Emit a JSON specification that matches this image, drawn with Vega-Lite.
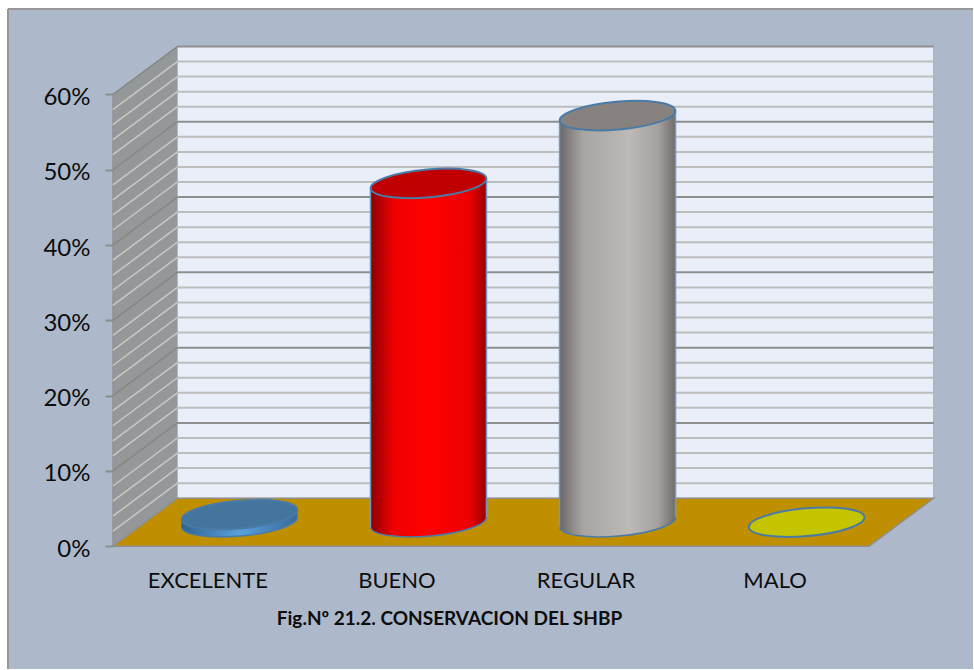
{"$schema":"https://vega.github.io/schema/vega-lite/v6.json","autosize":{"type":"fit","contains":"padding"},"padding":0,"width":974,"height":670,"background":"white","view":{"stroke":null},"config":{"font":"Lato"},
"datasets":{
"valores":[{"categoria":"EXCELENTE","orden":0.5,"valor":0.01},{"categoria":"BUENO","orden":1.5,"valor":0.45},{"categoria":"REGULAR","orden":2.5,"valor":0.54},{"categoria":"MALO","orden":3.5,"valor":0}],
"cuerpos":[{"categoria":"EXCELENTE","f":0.3625,"bajo":0.0252,"alto":0.0352},{"categoria":"EXCELENTE","f":0.9755,"bajo":0.0384,"alto":0.0484},{"categoria":"BUENO","f":1.3625,"bajo":0.0252,"alto":0.4752},{"categoria":"BUENO","f":1.9755,"bajo":0.0384,"alto":0.4884},{"categoria":"REGULAR","f":2.3625,"bajo":0.0252,"alto":0.5652},{"categoria":"REGULAR","f":2.9755,"bajo":0.0384,"alto":0.5784}],
"menores":[{"p":0.02},{"p":0.04},{"p":0.06},{"p":0.08},{"p":0.12},{"p":0.14},{"p":0.16},{"p":0.18},{"p":0.22},{"p":0.24},{"p":0.26},{"p":0.28},{"p":0.32},{"p":0.34},{"p":0.36},{"p":0.38},{"p":0.42},{"p":0.44},{"p":0.46},{"p":0.48},{"p":0.52},{"p":0.54},{"p":0.56},{"p":0.58}],
"mayores":[{"p":0.1},{"p":0.2},{"p":0.3},{"p":0.4},{"p":0.5},{"p":0.6}],
"pared":[{"f":0,"bajo":0,"alto":0.6},{"f":0.341,"bajo":0.0637,"alto":0.6637}],
"piso":[{"h":0,"i":0,"d":4},{"h":0.0637,"i":0.341,"d":4.341}],
"marco":[{"xa":-0.5548,"xb":4.5495,"ya":0.7135,"yb":-0.1631}],
"fondo":[{"xa":0.341,"xb":4.341,"ya":0.0637,"yb":0.6637}]
},
"layer":[
{"data":{"name":"marco"},"mark":{"type":"rect","fill":"#adb9cb"},"encoding":{
"x":{"field":"xa","type":"quantitative","scale":{"domain":[-0.5971,4.5495],"nice":false,"zero":false}},
"x2":{"field":"xb"},
"y":{"field":"ya","type":"quantitative","scale":{"domain":[-0.1631,0.7255],"nice":false,"zero":false}},
"y2":{"field":"yb"}}},
{"data":{"name":"marco"},"mark":{"type":"rule","stroke":"#979797","strokeWidth":2},"encoding":{
"x":{"field":"xa","type":"quantitative","scale":{"domain":[-0.5971,4.5495],"nice":false,"zero":false}},
"x2":{"field":"xb"},
"y":{"field":"ya","type":"quantitative","scale":{"domain":[-0.1631,0.7255],"nice":false,"zero":false}}}},
{"data":{"name":"marco"},"mark":{"type":"rule","stroke":"#979797","strokeWidth":2},"encoding":{
"x":{"field":"xa","type":"quantitative","scale":{"domain":[-0.5971,4.5495],"nice":false,"zero":false}},
"y":{"field":"ya","type":"quantitative","scale":{"domain":[-0.1631,0.7255],"nice":false,"zero":false}},
"y2":{"field":"yb"}}},
{"data":{"name":"pared"},"mark":{"type":"area","orient":"vertical","fill":"#94989a","stroke":"#8e8e8e","strokeWidth":1},"encoding":{
"x":{"field":"f","type":"quantitative","scale":{"domain":[-0.5971,4.5495],"nice":false,"zero":false}},
"y":{"field":"bajo","type":"quantitative","scale":{"domain":[-0.1631,0.7255],"nice":false,"zero":false}},
"y2":{"field":"alto"}}},
{"data":{"name":"fondo"},"mark":{"type":"rect","fill":"#e9eef9","stroke":"#b0b0b0","strokeWidth":1},"encoding":{
"x":{"field":"xa","type":"quantitative","scale":{"domain":[-0.5971,4.5495],"nice":false,"zero":false}},
"x2":{"field":"xb"},
"y":{"field":"ya","type":"quantitative","scale":{"domain":[-0.1631,0.7255],"nice":false,"zero":false}},
"y2":{"field":"yb"}}},
{"data":{"name":"menores"},"mark":{"type":"rule","stroke":"#bdbdbd","strokeWidth":2,"yOffset":-48},"encoding":{
"x":{"datum":0.341,"type":"quantitative","scale":{"domain":[-0.5971,4.5495],"nice":false,"zero":false}},
"x2":{"datum":4.341},
"y":{"field":"p","type":"quantitative","scale":{"domain":[-0.1631,0.7255],"nice":false,"zero":false}}}},
{"data":{"name":"mayores"},"mark":{"type":"rule","stroke":"#8f8f8f","strokeWidth":2,"yOffset":-48},"encoding":{
"x":{"datum":0.341,"type":"quantitative","scale":{"domain":[-0.5971,4.5495],"nice":false,"zero":false}},
"x2":{"datum":4.341},
"y":{"field":"p","type":"quantitative","scale":{"domain":[-0.1631,0.7255],"nice":false,"zero":false}}}},
{"data":{"name":"menores"},"mark":{"type":"rule","stroke":"#c9c9c5","strokeWidth":1.5,"y2Offset":-48},"encoding":{
"x":{"datum":0,"type":"quantitative","scale":{"domain":[-0.5971,4.5495],"nice":false,"zero":false}},
"x2":{"datum":0.341},
"y":{"field":"p","type":"quantitative","scale":{"domain":[-0.1631,0.7255],"nice":false,"zero":false}},
"y2":{"field":"p"}}},
{"data":{"name":"mayores"},"mark":{"type":"rule","stroke":"#85887f","strokeWidth":1.5,"y2Offset":-48},"encoding":{
"x":{"datum":0,"type":"quantitative","scale":{"domain":[-0.5971,4.5495],"nice":false,"zero":false}},
"x2":{"datum":0.341},
"y":{"field":"p","type":"quantitative","scale":{"domain":[-0.1631,0.7255],"nice":false,"zero":false}},
"y2":{"field":"p"}}},
{"data":{"name":"piso"},"mark":{"type":"area","orient":"horizontal","fill":"#bf8f00","stroke":"#8f8f8f","strokeWidth":1.5},"encoding":{
"y":{"field":"h","type":"quantitative","scale":{"domain":[-0.1631,0.7255],"nice":false,"zero":false}},
"x":{"field":"i","type":"quantitative","scale":{"domain":[-0.5971,4.5495],"nice":false,"zero":false}},
"x2":{"field":"d"}}},
{"data":{"name":"valores"},"transform":[{"filter":"datum.categoria==='EXCELENTE'"}],"mark":{"type":"point","filled":true,"opacity":1,"size":13456,"shape":"M-0.9962,0.0872 A1,0.24,-5,1,1,0.9962,-0.0872 A1,0.24,-5,1,1,-0.9962,0.0872 Z","xOffset":32,"yOffset":-24,"color":{"gradient":"linear","x1":0,"y1":0,"x2":1,"y2":0,"stops":[{"offset":0,"color":"#2f6490"},{"offset":0.5,"color":"#5a9fdc"},{"offset":1,"color":"#366c9c"}]},"stroke":"#4a7ba7","strokeWidth":1.5},"encoding":{
"x":{"field":"orden","type":"quantitative","scale":{"domain":[-0.5971,4.5495],"nice":false,"zero":false}},
"y":{"datum":0,"type":"quantitative","scale":{"domain":[-0.1631,0.7255],"nice":false,"zero":false}}}},
{"data":{"name":"valores"},"transform":[{"filter":"datum.categoria==='BUENO'"}],"mark":{"type":"point","filled":true,"opacity":1,"size":13456,"shape":"M-0.9962,0.0872 A1,0.24,-5,1,1,0.9962,-0.0872 A1,0.24,-5,1,1,-0.9962,0.0872 Z","xOffset":32,"yOffset":-24,"color":{"gradient":"linear","x1":0,"y1":0,"x2":1,"y2":0,"stops":[{"offset":0,"color":"#8a0000"},{"offset":0.2,"color":"#f00000"},{"offset":0.5,"color":"#ff0000"},{"offset":0.85,"color":"#ee0000"},{"offset":1,"color":"#990000"}]},"stroke":"#4a7ba7","strokeWidth":1.5},"encoding":{
"x":{"field":"orden","type":"quantitative","scale":{"domain":[-0.5971,4.5495],"nice":false,"zero":false}},
"y":{"datum":0,"type":"quantitative","scale":{"domain":[-0.1631,0.7255],"nice":false,"zero":false}}}},
{"data":{"name":"valores"},"transform":[{"filter":"datum.categoria==='REGULAR'"}],"mark":{"type":"point","filled":true,"opacity":1,"size":13456,"shape":"M-0.9962,0.0872 A1,0.24,-5,1,1,0.9962,-0.0872 A1,0.24,-5,1,1,-0.9962,0.0872 Z","xOffset":32,"yOffset":-24,"color":{"gradient":"linear","x1":0,"y1":0,"x2":1,"y2":0,"stops":[{"offset":0,"color":"#6a6866"},{"offset":0.2,"color":"#a8a4a2"},{"offset":0.6,"color":"#bdb9b6"},{"offset":0.85,"color":"#a5a19f"},{"offset":1,"color":"#6f6c6a"}]},"stroke":"#4a7ba7","strokeWidth":1.5},"encoding":{
"x":{"field":"orden","type":"quantitative","scale":{"domain":[-0.5971,4.5495],"nice":false,"zero":false}},
"y":{"datum":0,"type":"quantitative","scale":{"domain":[-0.1631,0.7255],"nice":false,"zero":false}}}},
{"data":{"name":"cuerpos"},"transform":[{"filter":"datum.categoria==='EXCELENTE'"}],"mark":{"type":"area","orient":"vertical","color":{"gradient":"linear","x1":0,"y1":0,"x2":1,"y2":0,"stops":[{"offset":0,"color":"#2f6490"},{"offset":0.5,"color":"#5a9fdc"},{"offset":1,"color":"#366c9c"}]}},"encoding":{
"x":{"field":"f","type":"quantitative","scale":{"domain":[-0.5971,4.5495],"nice":false,"zero":false}},
"y":{"field":"alto","type":"quantitative","scale":{"domain":[-0.1631,0.7255],"nice":false,"zero":false}},
"y2":{"field":"bajo"}}},
{"data":{"name":"cuerpos"},"transform":[{"filter":"datum.categoria==='BUENO'"}],"mark":{"type":"area","orient":"vertical","color":{"gradient":"linear","x1":0,"y1":0,"x2":1,"y2":0,"stops":[{"offset":0,"color":"#8a0000"},{"offset":0.2,"color":"#f00000"},{"offset":0.5,"color":"#ff0000"},{"offset":0.85,"color":"#ee0000"},{"offset":1,"color":"#990000"}]}},"encoding":{
"x":{"field":"f","type":"quantitative","scale":{"domain":[-0.5971,4.5495],"nice":false,"zero":false}},
"y":{"field":"alto","type":"quantitative","scale":{"domain":[-0.1631,0.7255],"nice":false,"zero":false}},
"y2":{"field":"bajo"}}},
{"data":{"name":"cuerpos"},"transform":[{"filter":"datum.categoria==='REGULAR'"}],"mark":{"type":"area","orient":"vertical","color":{"gradient":"linear","x1":0,"y1":0,"x2":1,"y2":0,"stops":[{"offset":0,"color":"#6a6866"},{"offset":0.2,"color":"#a8a4a2"},{"offset":0.6,"color":"#bdb9b6"},{"offset":0.85,"color":"#a5a19f"},{"offset":1,"color":"#6f6c6a"}]}},"encoding":{
"x":{"field":"f","type":"quantitative","scale":{"domain":[-0.5971,4.5495],"nice":false,"zero":false}},
"y":{"field":"alto","type":"quantitative","scale":{"domain":[-0.1631,0.7255],"nice":false,"zero":false}},
"y2":{"field":"bajo"}}},
{"data":{"name":"valores"},"transform":[{"filter":"datum.valor>0.02"}],"mark":{"type":"rule","stroke":"#6f9ac4","strokeWidth":1.5,"xOffset":-26,"x2Offset":-26,"yOffset":-19,"y2Offset":-19},"encoding":{
"x":{"field":"orden","type":"quantitative","scale":{"domain":[-0.5971,4.5495],"nice":false,"zero":false}},
"y":{"field":"valor","type":"quantitative","scale":{"domain":[-0.1631,0.7255],"nice":false,"zero":false}},
"y2":{"datum":0}}},
{"data":{"name":"valores"},"transform":[{"filter":"datum.valor>0.02"}],"mark":{"type":"rule","stroke":"#6f9ac4","strokeWidth":1.5,"xOffset":90,"x2Offset":90,"yOffset":-29,"y2Offset":-29},"encoding":{
"x":{"field":"orden","type":"quantitative","scale":{"domain":[-0.5971,4.5495],"nice":false,"zero":false}},
"y":{"field":"valor","type":"quantitative","scale":{"domain":[-0.1631,0.7255],"nice":false,"zero":false}},
"y2":{"datum":0}}},
{"data":{"name":"valores"},"mark":{"type":"point","filled":true,"opacity":1,"size":13456,"shape":"M-0.9962,0.0872 A1,0.24,-5,1,1,0.9962,-0.0872 A1,0.24,-5,1,1,-0.9962,0.0872 Z","xOffset":32,"yOffset":-24,"stroke":"#4a7ba7","strokeWidth":2},"encoding":{
"x":{"field":"orden","type":"quantitative","scale":{"domain":[-0.5971,4.5495],"nice":false,"zero":false},"axis":{"values":[0.5,1.5,2.5,3.5],"labelExpr":"['EXCELENTE','BUENO','REGULAR','MALO'][floor(datum.value)]","orient":"bottom","offset":-123,"domain":false,"ticks":false,"grid":false,"labelPadding":24,"labelFontSize":22,"labelColor":"#0d0d0d","labelFont":"Lato","labelOverlap":false,"labelFlush":false,"zindex":1,"title":"Fig.Nº 21.2. CONSERVACION DEL SHBP","titleFontSize":19,"titleFont":"Lato","titleFontWeight":"bold","titleColor":"#0d0d0d","titlePadding":18,"titleX":449,"titleAnchor":"middle"}},
"y":{"field":"valor","type":"quantitative","scale":{"domain":[-0.1631,0.7255],"nice":false,"zero":false},"axis":{"values":[0,0.1,0.2,0.3,0.4,0.5,0.6],"format":"0%","offset":-113,"domain":false,"grid":false,"tickSize":8,"tickColor":"#8c8c8c","tickWidth":2,"labelPadding":15,"labelFontSize":24,"labelOffset":3,"labelColor":"#0d0d0d","labelFont":"Lato","zindex":1,"title":null}},
"color":{"field":"categoria","type":"nominal","legend":null,"scale":{"domain":["EXCELENTE","BUENO","REGULAR","MALO"],"range":["#44759f","#c00000","#878280","#c4c400"]}}}}
]}
